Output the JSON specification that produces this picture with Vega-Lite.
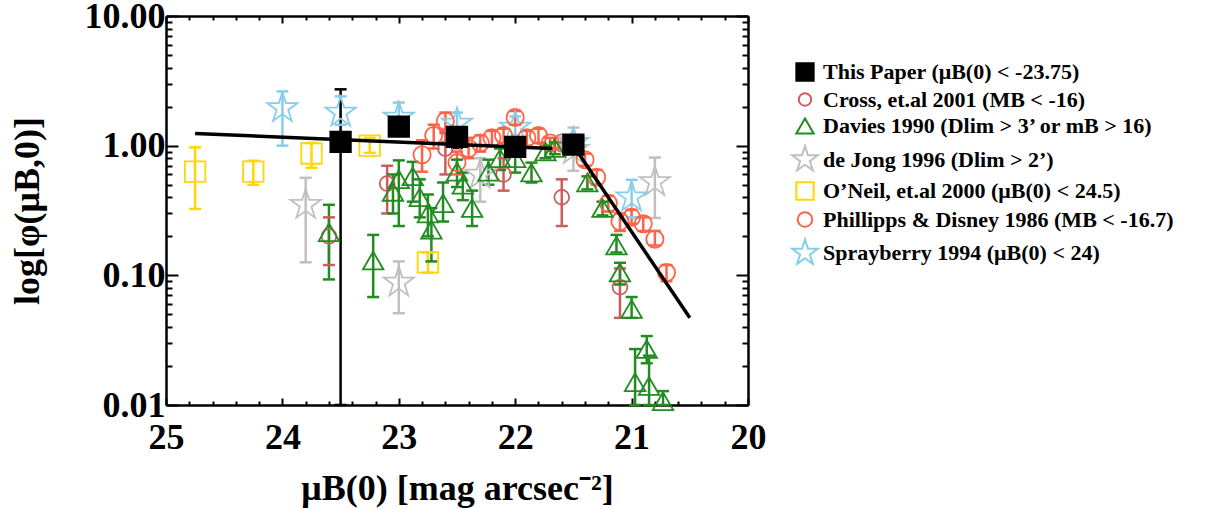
{
  "$schema": "https://vega.github.io/schema/vega-lite/v6.json",
  "width": 582,
  "height": 389,
  "autosize": {"type": "none"},
  "padding": {"left": 166, "top": 16, "right": 468, "bottom": 104},
  "background": "white",
  "config": {"view": {"stroke": null}, "font": "Liberation Serif",
    "legend": {"title": null, "orient": "right", "offset": 0, "padding": 45, "labelFont": "Liberation Serif", "labelFontSize": 22, "labelFontWeight": "bold", "labelColor": "black", "labelLimit": 600,
      "symbolSize": 300, "symbolStrokeWidth": 2, "labelOffset": 7, "rowPadding": 3.5}},
  "datasets": {
    "pts": [
      {"s": "O’Neil, et.al 2000 (μB(0) < 24.5)", "mu": 24.75, "v": 0.63, "lo": 0.325, "hi": 0.97},
      {"s": "O’Neil, et.al 2000 (μB(0) < 24.5)", "mu": 24.25, "v": 0.63, "lo": 0.5, "hi": 0.765},
      {"s": "O’Neil, et.al 2000 (μB(0) < 24.5)", "mu": 23.75, "v": 0.87, "lo": 0.675, "hi": 1.05},
      {"s": "O’Neil, et.al 2000 (μB(0) < 24.5)", "mu": 23.25, "v": 1.0, "lo": 0.88, "hi": 1.15},
      {"s": "O’Neil, et.al 2000 (μB(0) < 24.5)", "mu": 22.75, "v": 0.126, "lo": 0.105, "hi": 0.15},
      {"s": "de Jong 1996 (Dlim > 2’)", "mu": 23.8, "v": 0.35, "lo": 0.126, "hi": 0.565},
      {"s": "de Jong 1996 (Dlim > 2’)", "mu": 23.0, "v": 0.088, "lo": 0.051, "hi": 0.128},
      {"s": "de Jong 1996 (Dlim > 2’)", "mu": 22.3, "v": 0.6, "lo": 0.37, "hi": 0.8},
      {"s": "de Jong 1996 (Dlim > 2’)", "mu": 21.5, "v": 0.93, "lo": 0.64, "hi": 1.38},
      {"s": "de Jong 1996 (Dlim > 2’)", "mu": 20.8, "v": 0.525, "lo": 0.277, "hi": 0.81},
      {"s": "Sprayberry 1994 (μB(0) < 24)", "mu": 24.0, "v": 1.95, "lo": 1.0, "hi": 2.62},
      {"s": "Sprayberry 1994 (μB(0) < 24)", "mu": 23.5, "v": 1.8, "lo": 1.45, "hi": 2.4},
      {"s": "Sprayberry 1994 (μB(0) < 24)", "mu": 23.0, "v": 1.65, "lo": 1.3, "hi": 2.15},
      {"s": "Sprayberry 1994 (μB(0) < 24)", "mu": 22.5, "v": 1.48, "lo": 1.25, "hi": 1.8},
      {"s": "Sprayberry 1994 (μB(0) < 24)", "mu": 22.0, "v": 1.38, "lo": 1.15, "hi": 1.68},
      {"s": "Sprayberry 1994 (μB(0) < 24)", "mu": 21.5, "v": 1.05, "lo": 0.9, "hi": 1.2},
      {"s": "Sprayberry 1994 (μB(0) < 24)", "mu": 21.0, "v": 0.4, "lo": 0.28, "hi": 0.545},
      {"s": "Cross, et.al 2001 (MB < -16)", "mu": 23.6, "v": 0.2, "lo": 0.12, "hi": 0.28},
      {"s": "Cross, et.al 2001 (MB < -16)", "mu": 23.1, "v": 0.51, "lo": 0.3, "hi": 0.7},
      {"s": "Cross, et.al 2001 (MB < -16)", "mu": 22.6, "v": 0.95, "lo": 0.6, "hi": 1.25},
      {"s": "Cross, et.al 2001 (MB < -16)", "mu": 22.1, "v": 0.6, "lo": 0.45, "hi": 0.8},
      {"s": "Cross, et.al 2001 (MB < -16)", "mu": 21.6, "v": 0.4, "lo": 0.24, "hi": 0.55},
      {"s": "Cross, et.al 2001 (MB < -16)", "mu": 21.1, "v": 0.081, "lo": 0.047, "hi": 0.113},
      {"s": "Phillipps & Disney 1986 (MB < -16.7)", "mu": 22.8, "v": 0.85, "lo": 0.63, "hi": 1.1},
      {"s": "Phillipps & Disney 1986 (MB < -16.7)", "mu": 22.7, "v": 1.2, "lo": 0.95, "hi": 1.45},
      {"s": "Phillipps & Disney 1986 (MB < -16.7)", "mu": 22.6, "v": 1.55, "lo": 1.3, "hi": 1.8},
      {"s": "Phillipps & Disney 1986 (MB < -16.7)", "mu": 22.5, "v": 0.74, "lo": 0.6, "hi": 0.9},
      {"s": "Phillipps & Disney 1986 (MB < -16.7)", "mu": 22.4, "v": 0.95, "lo": 0.8, "hi": 1.15},
      {"s": "Phillipps & Disney 1986 (MB < -16.7)", "mu": 22.3, "v": 1.05, "lo": 0.9, "hi": 1.2},
      {"s": "Phillipps & Disney 1986 (MB < -16.7)", "mu": 22.2, "v": 1.15, "lo": 1.0, "hi": 1.3},
      {"s": "Phillipps & Disney 1986 (MB < -16.7)", "mu": 22.1, "v": 1.2, "lo": 1.05, "hi": 1.35},
      {"s": "Phillipps & Disney 1986 (MB < -16.7)", "mu": 22.0, "v": 1.65, "lo": 1.45, "hi": 1.85},
      {"s": "Phillipps & Disney 1986 (MB < -16.7)", "mu": 21.9, "v": 1.15, "lo": 1.0, "hi": 1.3},
      {"s": "Phillipps & Disney 1986 (MB < -16.7)", "mu": 21.8, "v": 1.2, "lo": 1.05, "hi": 1.35},
      {"s": "Phillipps & Disney 1986 (MB < -16.7)", "mu": 21.7, "v": 1.05, "lo": 0.95, "hi": 1.15},
      {"s": "Phillipps & Disney 1986 (MB < -16.7)", "mu": 21.6, "v": 1.05, "lo": 0.95, "hi": 1.15},
      {"s": "Phillipps & Disney 1986 (MB < -16.7)", "mu": 21.4, "v": 0.78, "lo": 0.7, "hi": 0.87},
      {"s": "Phillipps & Disney 1986 (MB < -16.7)", "mu": 21.3, "v": 0.57, "lo": 0.5, "hi": 0.65},
      {"s": "Phillipps & Disney 1986 (MB < -16.7)", "mu": 21.2, "v": 0.36, "lo": 0.31, "hi": 0.41},
      {"s": "Phillipps & Disney 1986 (MB < -16.7)", "mu": 21.1, "v": 0.26, "lo": 0.22, "hi": 0.3},
      {"s": "Phillipps & Disney 1986 (MB < -16.7)", "mu": 21.0, "v": 0.28, "lo": 0.25, "hi": 0.32},
      {"s": "Phillipps & Disney 1986 (MB < -16.7)", "mu": 20.9, "v": 0.25, "lo": 0.22, "hi": 0.28},
      {"s": "Phillipps & Disney 1986 (MB < -16.7)", "mu": 20.8, "v": 0.19, "lo": 0.17, "hi": 0.22},
      {"s": "Phillipps & Disney 1986 (MB < -16.7)", "mu": 20.7, "v": 0.105, "lo": 0.09, "hi": 0.12},
      {"s": "Davies 1990 (Dlim > 3’ or mB > 16)", "mu": 23.6, "v": 0.215, "lo": 0.093, "hi": 0.35},
      {"s": "Davies 1990 (Dlim > 3’ or mB > 16)", "mu": 23.22, "v": 0.13, "lo": 0.068, "hi": 0.205},
      {"s": "Davies 1990 (Dlim > 3’ or mB > 16)", "mu": 23.05, "v": 0.44, "lo": 0.3, "hi": 0.6},
      {"s": "Davies 1990 (Dlim > 3’ or mB > 16)", "mu": 23.0, "v": 0.55, "lo": 0.24, "hi": 0.77},
      {"s": "Davies 1990 (Dlim > 3’ or mB > 16)", "mu": 22.88, "v": 0.58, "lo": 0.37, "hi": 0.75},
      {"s": "Davies 1990 (Dlim > 3’ or mB > 16)", "mu": 22.82, "v": 0.4, "lo": 0.28, "hi": 0.55},
      {"s": "Davies 1990 (Dlim > 3’ or mB > 16)", "mu": 22.75, "v": 0.3, "lo": 0.2, "hi": 0.42},
      {"s": "Davies 1990 (Dlim > 3’ or mB > 16)", "mu": 22.72, "v": 0.225, "lo": 0.128, "hi": 0.33},
      {"s": "Davies 1990 (Dlim > 3’ or mB > 16)", "mu": 22.62, "v": 0.36, "lo": 0.26, "hi": 0.52},
      {"s": "Davies 1990 (Dlim > 3’ or mB > 16)", "mu": 22.5, "v": 0.63, "lo": 0.48, "hi": 0.78},
      {"s": "Davies 1990 (Dlim > 3’ or mB > 16)", "mu": 22.45, "v": 0.5, "lo": 0.38, "hi": 0.62},
      {"s": "Davies 1990 (Dlim > 3’ or mB > 16)", "mu": 22.37, "v": 0.33, "lo": 0.24, "hi": 0.45},
      {"s": "Davies 1990 (Dlim > 3’ or mB > 16)", "mu": 22.23, "v": 0.63, "lo": 0.5, "hi": 0.78},
      {"s": "Davies 1990 (Dlim > 3’ or mB > 16)", "mu": 22.13, "v": 0.8, "lo": 0.65, "hi": 0.95},
      {"s": "Davies 1990 (Dlim > 3’ or mB > 16)", "mu": 22.0, "v": 0.8, "lo": 0.62, "hi": 0.98},
      {"s": "Davies 1990 (Dlim > 3’ or mB > 16)", "mu": 21.86, "v": 0.62, "lo": 0.52, "hi": 0.74},
      {"s": "Davies 1990 (Dlim > 3’ or mB > 16)", "mu": 21.74, "v": 0.9, "lo": 0.8, "hi": 1.0},
      {"s": "Davies 1990 (Dlim > 3’ or mB > 16)", "mu": 21.66, "v": 0.96, "lo": 0.86, "hi": 1.06},
      {"s": "Davies 1990 (Dlim > 3’ or mB > 16)", "mu": 21.38, "v": 0.52, "lo": 0.46, "hi": 0.58},
      {"s": "Davies 1990 (Dlim > 3’ or mB > 16)", "mu": 21.25, "v": 0.33, "lo": 0.29, "hi": 0.37},
      {"s": "Davies 1990 (Dlim > 3’ or mB > 16)", "mu": 21.13, "v": 0.17, "lo": 0.15, "hi": 0.205},
      {"s": "Davies 1990 (Dlim > 3’ or mB > 16)", "mu": 21.1, "v": 0.105, "lo": 0.085, "hi": 0.125},
      {"s": "Davies 1990 (Dlim > 3’ or mB > 16)", "mu": 21.0, "v": 0.055, "lo": 0.047, "hi": 0.068},
      {"s": "Davies 1990 (Dlim > 3’ or mB > 16)", "mu": 20.97, "v": 0.015, "lo": 0.01, "hi": 0.027},
      {"s": "Davies 1990 (Dlim > 3’ or mB > 16)", "mu": 20.87, "v": 0.027, "lo": 0.021, "hi": 0.034},
      {"s": "Davies 1990 (Dlim > 3’ or mB > 16)", "mu": 20.85, "v": 0.014, "lo": 0.01, "hi": 0.024},
      {"s": "Davies 1990 (Dlim > 3’ or mB > 16)", "mu": 20.73, "v": 0.0107, "lo": 0.01, "hi": 0.0128},
      {"s": "This Paper (μB(0) < -23.75)", "mu": 23.5, "v": 1.07, "lo": 0.01, "hi": 2.72},
      {"s": "This Paper (μB(0) < -23.75)", "mu": 23.0, "v": 1.4, "lo": 1.3, "hi": 1.5},
      {"s": "This Paper (μB(0) < -23.75)", "mu": 22.5, "v": 1.17, "lo": 0.96, "hi": 1.3},
      {"s": "This Paper (μB(0) < -23.75)", "mu": 22.0, "v": 0.98, "lo": 0.9, "hi": 1.06},
      {"s": "This Paper (μB(0) < -23.75)", "mu": 21.5, "v": 1.02, "lo": 0.95, "hi": 1.1}
    ],
    "fit": [
      {"seg": "a", "mu": 24.75, "v": 1.24},
      {"seg": "a", "mu": 21.68, "v": 0.95},
      {"seg": "b", "mu": 21.5, "v": 1.0},
      {"seg": "b", "mu": 20.5, "v": 0.047}
    ]
  },
  "resolve": {"axis": {"x": "independent", "y": "independent"}},
  "layer": [
    {
      "data": {"name": "pts"},
      "mark": {"type": "rule", "strokeWidth": 2.5},
      "encoding": {
        "x": {"field": "mu", "type": "quantitative",
          "scale": {"domain": [20, 25], "reverse": true, "nice": false, "zero": false},
          "axis": {"orient": "bottom", "values": [20, 21, 22, 23, 24, 25], "format": "d", "tickSize": -7, "tickWidth": 2, "tickColor": "black",
            "domain": true, "domainWidth": 2.5, "domainColor": "black", "grid": false,
            "labelFont": "Liberation Serif", "labelFontSize": 36, "labelFontWeight": "bold", "labelColor": "black", "labelPadding": 22,
            "labelFlush": false, "labelOverlap": false, "labelBound": false,
            "title": "μB(0) [mag arcsec⁻²]", "titleFont": "Liberation Serif", "titleFontSize": 36, "titleFontWeight": "bold", "titleColor": "black", "titlePadding": 16}},
        "y": {"field": "lo", "type": "quantitative",
          "scale": {"type": "log", "domain": [0.01, 10], "nice": false},
          "axis": {"orient": "left", "values": [0.01, 0.1, 1, 10], "format": ".2f", "tickSize": -12, "tickWidth": 2, "tickColor": "black",
            "domain": true, "domainWidth": 2.5, "domainColor": "black", "grid": false,
            "labelFont": "Liberation Serif", "labelFontSize": 36, "labelFontWeight": "bold", "labelColor": "black", "labelPadding": 13,
            "labelFlush": false, "labelOverlap": false, "labelBound": false,
            "title": "log[φ(μB,0)]", "titleFont": "Liberation Serif", "titleFontSize": 36, "titleFontWeight": "bold", "titleColor": "black", "titlePadding": 38}},
        "y2": {"field": "hi"},
        "color": {"field": "s", "type": "nominal", "legend": null,
          "scale": {"domain": ["Cross, et.al 2001 (MB < -16)", "Davies 1990 (Dlim > 3’ or mB > 16)", "de Jong 1996 (Dlim > 2’)", "O’Neil, et.al 2000 (μB(0) < 24.5)", "Phillipps & Disney 1986 (MB < -16.7)", "Sprayberry 1994 (μB(0) < 24)", "This Paper (μB(0) < -23.75)"],
            "range": ["#CD5C5C", "#228B22", "#C0C0C0", "#FFD700", "#FF6347", "#87CEEB", "#000000"]}}
      }
    },
    {
      "data": {"name": "pts"},
      "mark": {"type": "point", "shape": "M-1,0L1,0", "size": 144, "strokeWidth": 2.5, "filled": false, "opacity": 1},
      "encoding": {
        "x": {"field": "mu", "type": "quantitative",
          "axis": {"orient": "bottom", "values": [20.2, 20.4, 20.6, 20.8, 21.2, 21.4, 21.6, 21.8, 22.2, 22.4, 22.6, 22.8, 23.2, 23.4, 23.6, 23.8, 24.2, 24.4, 24.6, 24.8],
            "tickSize": -4, "tickWidth": 2, "tickColor": "black", "labels": false, "domain": false, "grid": false, "title": null}},
        "y": {"field": "lo", "type": "quantitative",
          "axis": {"orient": "left", "values": [0.02, 0.03, 0.04, 0.05, 0.06, 0.07, 0.08, 0.09, 0.2, 0.3, 0.4, 0.5, 0.6, 0.7, 0.8, 0.9, 2, 3, 4, 5, 6, 7, 8, 9],
            "tickSize": -6, "tickWidth": 2, "tickColor": "black", "labels": false, "domain": false, "grid": false, "title": null}},
        "color": {"field": "s", "type": "nominal", "legend": null}
      }
    },
    {
      "data": {"name": "pts"},
      "mark": {"type": "point", "shape": "M-1,0L1,0", "size": 144, "strokeWidth": 2.5, "filled": false, "opacity": 1},
      "encoding": {
        "x": {"field": "mu", "type": "quantitative",
          "axis": {"orient": "top", "values": [20, 21, 22, 23, 24, 25], "tickSize": -7, "tickWidth": 2, "tickColor": "black", "labels": false,
            "domain": true, "domainWidth": 2.5, "domainColor": "black", "grid": false, "title": null}},
        "y": {"field": "hi", "type": "quantitative",
          "axis": {"orient": "right", "values": [0.01, 0.1, 1, 10], "tickSize": -12, "tickWidth": 2, "tickColor": "black", "labels": false,
            "domain": true, "domainWidth": 2.5, "domainColor": "black", "grid": false, "title": null}},
        "color": {"field": "s", "type": "nominal", "legend": null}
      }
    },
    {
      "data": {"name": "pts"},
      "mark": {"type": "point", "strokeWidth": 1.8, "size": 420, "opacity": 1},
      "encoding": {
        "x": {"field": "mu", "type": "quantitative",
          "axis": {"orient": "top", "values": [20.2, 20.4, 20.6, 20.8, 21.2, 21.4, 21.6, 21.8, 22.2, 22.4, 22.6, 22.8, 23.2, 23.4, 23.6, 23.8, 24.2, 24.4, 24.6, 24.8],
            "tickSize": -4, "tickWidth": 2, "tickColor": "black", "labels": false, "domain": false, "grid": false, "title": null}},
        "y": {"field": "v", "type": "quantitative",
          "axis": {"orient": "right", "values": [0.02, 0.03, 0.04, 0.05, 0.06, 0.07, 0.08, 0.09, 0.2, 0.3, 0.4, 0.5, 0.6, 0.7, 0.8, 0.9, 2, 3, 4, 5, 6, 7, 8, 9],
            "tickSize": -6, "tickWidth": 2, "tickColor": "black", "labels": false, "domain": false, "grid": false, "title": null}},
        "stroke": {"field": "s", "type": "nominal",
          "scale": {"domain": ["This Paper (μB(0) < -23.75)", "Cross, et.al 2001 (MB < -16)", "Davies 1990 (Dlim > 3’ or mB > 16)", "de Jong 1996 (Dlim > 2’)", "O’Neil, et.al 2000 (μB(0) < 24.5)", "Phillipps & Disney 1986 (MB < -16.7)", "Sprayberry 1994 (μB(0) < 24)"],
            "range": ["#000000", "#CD5C5C", "#228B22", "#C0C0C0", "#FFD700", "#FF6347", "#87CEEB"]}},
        "fill": {"field": "s", "type": "nominal",
          "scale": {"domain": ["This Paper (μB(0) < -23.75)", "Cross, et.al 2001 (MB < -16)", "Davies 1990 (Dlim > 3’ or mB > 16)", "de Jong 1996 (Dlim > 2’)", "O’Neil, et.al 2000 (μB(0) < 24.5)", "Phillipps & Disney 1986 (MB < -16.7)", "Sprayberry 1994 (μB(0) < 24)"],
            "range": ["#000000", "transparent", "transparent", "transparent", "transparent", "transparent", "transparent"]}},
        "shape": {"field": "s", "type": "nominal",
          "scale": {"domain": ["This Paper (μB(0) < -23.75)", "Cross, et.al 2001 (MB < -16)", "Davies 1990 (Dlim > 3’ or mB > 16)", "de Jong 1996 (Dlim > 2’)", "O’Neil, et.al 2000 (μB(0) < 24.5)", "Phillipps & Disney 1986 (MB < -16.7)", "Sprayberry 1994 (μB(0) < 24)"],
            "range": ["square",
              "M-0.72,0A0.72,0.72,0,1,1,0.72,0A0.72,0.72,0,1,1,-0.72,0Z",
              "triangle-up",
              "M0,-1.55L0.349,-0.479L1.474,-0.479L0.563,0.183L0.911,1.254L0,0.592L-0.911,1.254L-0.563,0.183L-1.474,-0.479L-0.349,-0.479Z",
              "square",
              "M-0.84,0A0.84,0.84,0,1,1,0.84,0A0.84,0.84,0,1,1,-0.84,0Z",
              "M0,-1.55L0.349,-0.479L1.474,-0.479L0.563,0.183L0.911,1.254L0,0.592L-0.911,1.254L-0.563,0.183L-1.474,-0.479L-0.349,-0.479Z"]}}
      }
    },
    {
      "data": {"name": "fit"},
      "mark": {"type": "line", "color": "black", "strokeWidth": 3.5},
      "encoding": {
        "x": {"field": "mu", "type": "quantitative", "axis": null},
        "y": {"field": "v", "type": "quantitative", "axis": null},
        "detail": {"field": "seg", "type": "nominal"}
      }
    }
  ]
}
